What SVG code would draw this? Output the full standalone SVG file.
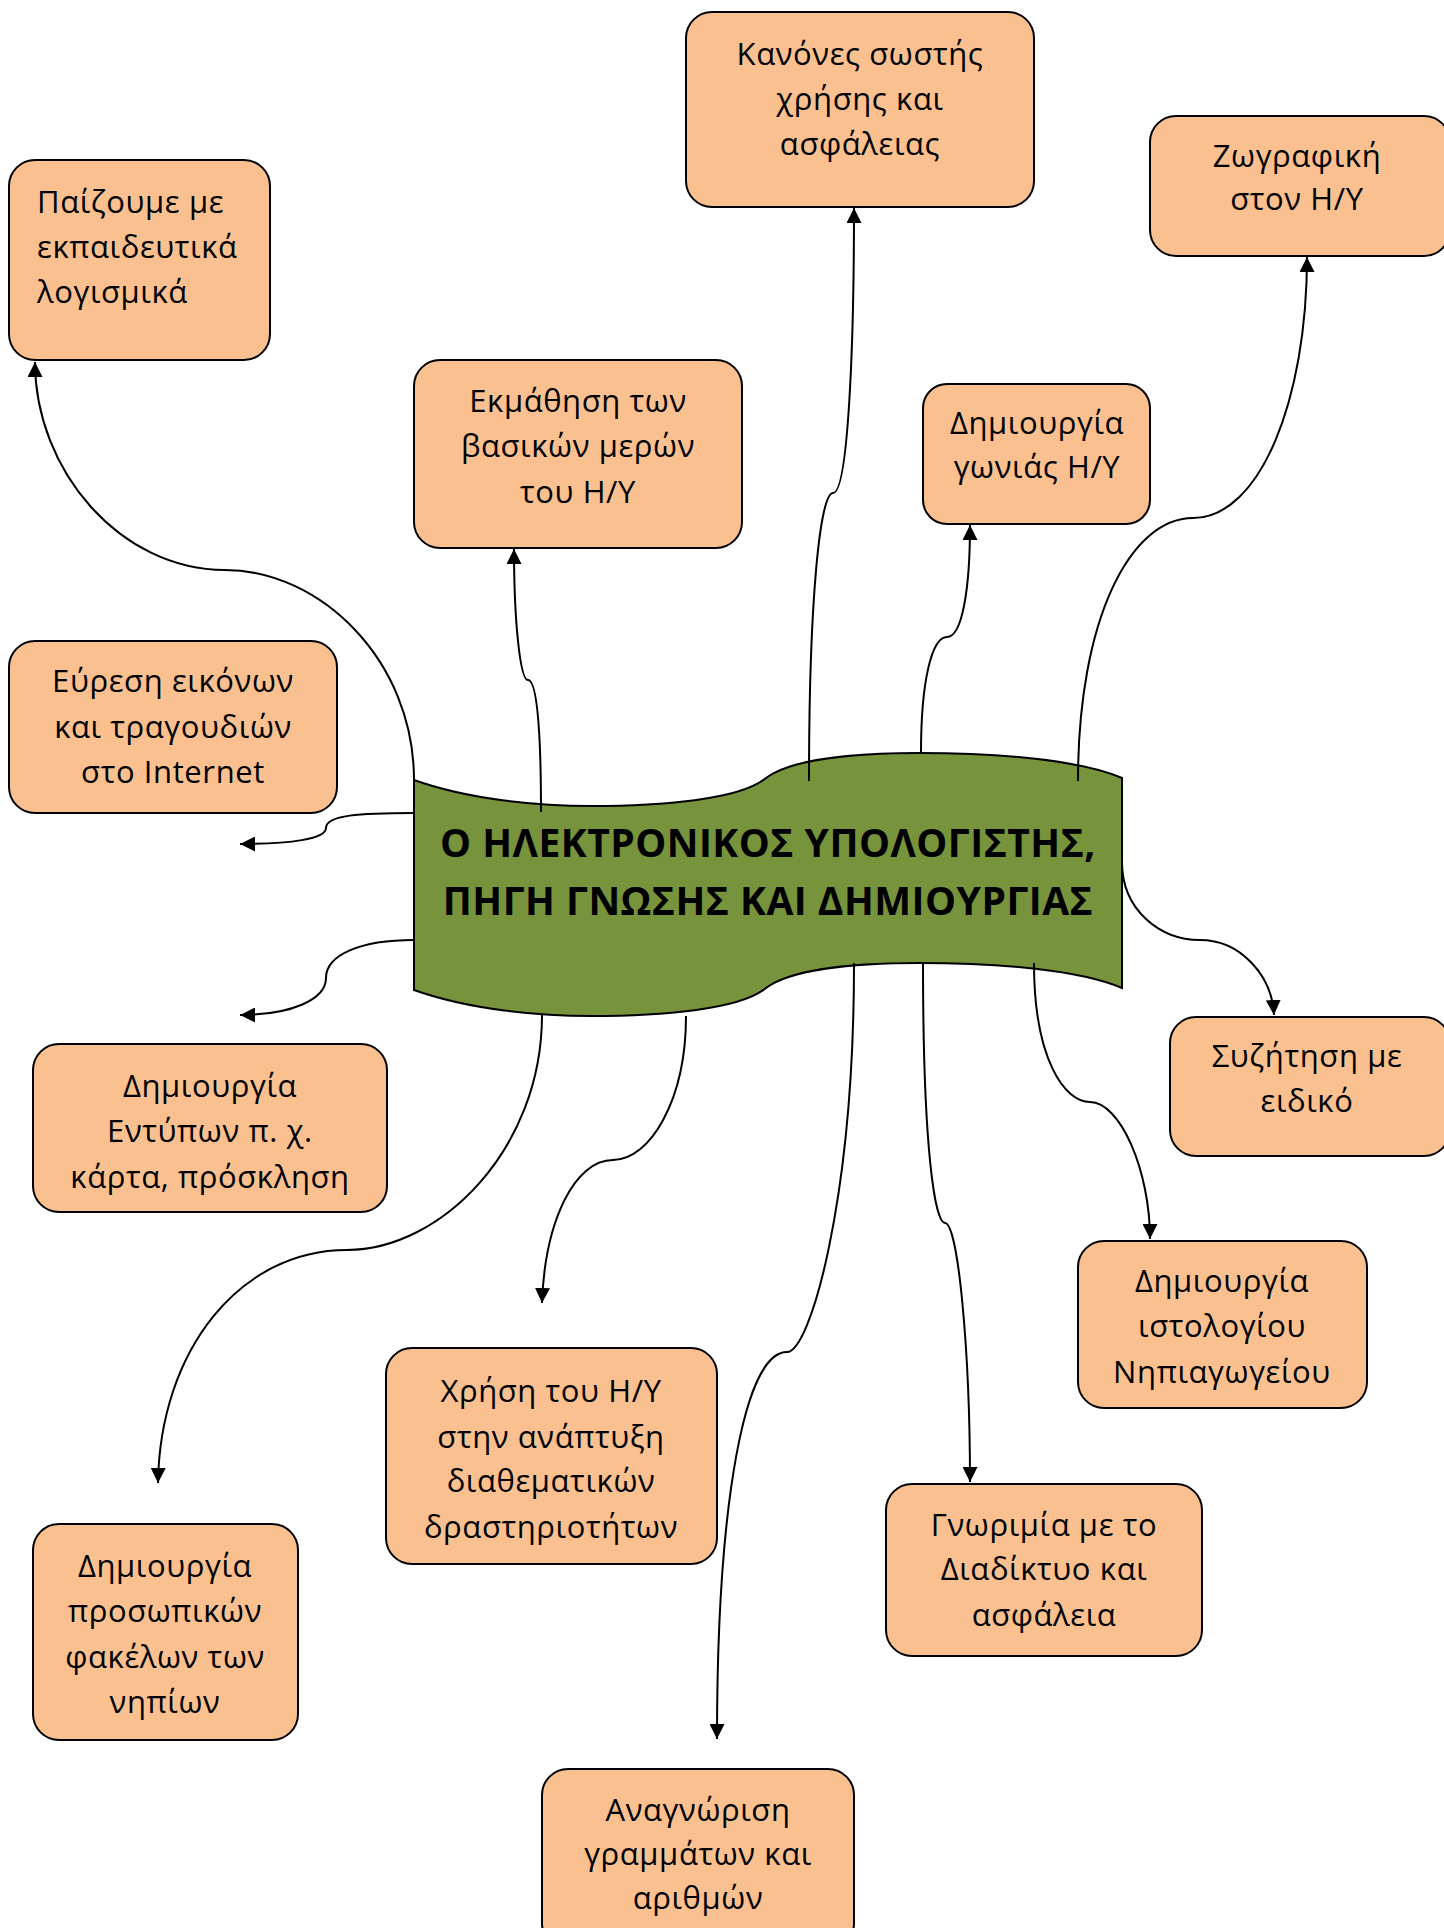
<svg xmlns="http://www.w3.org/2000/svg" width="1444" height="1928" viewBox="0 0 1444 1928">
<defs>
<style>
.box{fill:#FAC090;stroke:#000;stroke-width:2}
.t{font-family:"Open Sans","Noto Sans","DejaVu Sans",sans-serif;font-size:31px;letter-spacing:0.6px;fill:#000;text-anchor:middle}
.title{font-family:"Open Sans","Noto Sans","DejaVu Sans",sans-serif;font-size:39px;letter-spacing:0.5px;font-weight:bold;fill:#000;text-anchor:middle}
.c{fill:none;stroke:#000;stroke-width:2;marker-end:url(#ah)}
</style>
<marker id="ah" viewBox="0 0 15 15" refX="15" refY="7.5" markerWidth="15" markerHeight="15" markerUnits="userSpaceOnUse" orient="auto">
<path d="M0,0 L15,7.5 L0,15 z" fill="#000"/>
</marker>
</defs>
<rect width="1444" height="1928" fill="#fff"/>

<g id="center">
<path d="M414,780 C470,800 540,806 591,806 C660,806 740,800 766,778 C790,760 850,753 919,753 C1000,753 1080,760 1122,778 L1122,988 C1080,970 1000,963 919,963 C850,963 790,970 766,988 C740,1010 660,1016 591,1016 C540,1016 470,1010 414,990 Z" fill="#77933C" stroke="#000" stroke-width="2"/>
<text class="title" x="768" y="857">Ο ΗΛΕΚΤΡΟΝΙΚΟΣ ΥΠΟΛΟΓΙΣΤΗΣ,</text>
<text class="title" x="768" y="915">ΠΗΓΗ ΓΝΩΣΗΣ ΚΑΙ ΔΗΜΙΟΥΡΓΙΑΣ</text>
</g>

<g id="connectors">
<path class="c" d="M414,780 C414,660 320,570 225,570 C120,570 35,470 35,362"/>
<path class="c" d="M541,812 C541,720 536,680 528,680 C520,680 514,620 514,549"/>
<path class="c" d="M809,781 C809,600 820,493 833,493 C848,493 854,350 854,208"/>
<path class="c" d="M921,753 C921,680 932,637 947,637 C962,637 970,590 970,525"/>
<path class="c" d="M1078,781 C1078,620 1130,518 1193,518 C1260,518 1307,400 1307,257"/>
<path class="c" d="M414,813 C360,813 326,815 326,828 C326,839 290,844 240,844"/>
<path class="c" d="M414,940 C360,940 326,955 326,978 C326,1000 290,1015 240,1015"/>
<path class="c" d="M1122,862 C1122,910 1160,940 1200,940 C1240,940 1272,975 1274,1015"/>
<path class="c" d="M542,1015 C542,1150 440,1250 347,1250 C240,1250 160,1350 158,1483"/>
<path class="c" d="M686,1016 C686,1100 650,1160 613,1160 C575,1160 545,1220 542,1303"/>
<path class="c" d="M854,963 C854,1200 810,1352 787,1352 C745,1352 717,1500 717,1739"/>
<path class="c" d="M923,963 C923,1150 935,1223 945,1223 C958,1223 970,1350 970,1482"/>
<path class="c" d="M1034,963 C1034,1060 1065,1102 1090,1102 C1120,1102 1150,1170 1150,1239"/>
</g>

<g id="n-paizoume">
<rect class="box" x="9" y="160" width="261" height="200" rx="26"/>
<text class="t" style="text-anchor:start" x="37" y="213">Παίζουμε με</text>
<text class="t" style="text-anchor:start" x="37" y="258">εκπαιδευτικά</text>
<text class="t" style="text-anchor:start" x="37" y="303">λογισμικά</text>
</g>

<g id="n-kanones">
<rect class="box" x="686" y="12" width="348" height="195" rx="26"/>
<text class="t" x="860" y="65">Κανόνες σωστής</text>
<text class="t" x="860" y="110">χρήσης και</text>
<text class="t" x="860" y="155">ασφάλειας</text>
</g>

<g id="n-zografiki">
<rect class="box" x="1150" y="116" width="300" height="140" rx="26"/>
<text class="t" x="1297" y="167">Ζωγραφική</text>
<text class="t" x="1297" y="210">στον Η/Υ</text>
</g>

<g id="n-gonias">
<rect class="box" x="923" y="384" width="227" height="140" rx="24"/>
<text class="t" x="1037" y="434">Δημιουργία</text>
<text class="t" x="1037" y="478">γωνιάς Η/Υ</text>
</g>

<g id="n-ekmathisi">
<rect class="box" x="414" y="360" width="328" height="188" rx="26"/>
<text class="t" x="578" y="412">Εκμάθηση των</text>
<text class="t" x="578" y="457">βασικών μερών</text>
<text class="t" x="578" y="503">του Η/Υ</text>
</g>

<g id="n-evresi">
<rect class="box" x="9" y="641" width="328" height="172" rx="26"/>
<text class="t" x="173" y="692">Εύρεση εικόνων</text>
<text class="t" x="173" y="738">και τραγουδιών</text>
<text class="t" x="173" y="783">στο Internet</text>
</g>

<g id="n-entypa">
<rect class="box" x="33" y="1044" width="354" height="168" rx="26"/>
<text class="t" x="210" y="1097">Δημιουργία</text>
<text class="t" x="210" y="1142">Εντύπων π. χ.</text>
<text class="t" x="210" y="1188">κάρτα, πρόσκληση</text>
</g>

<g id="n-prosopikon">
<rect class="box" x="33" y="1524" width="265" height="216" rx="26"/>
<text class="t" x="165" y="1577">Δημιουργία</text>
<text class="t" x="165" y="1622">προσωπικών</text>
<text class="t" x="165" y="1668">φακέλων των</text>
<text class="t" x="165" y="1713">νηπίων</text>
</g>

<g id="n-xrisi">
<rect class="box" x="386" y="1348" width="331" height="216" rx="26"/>
<text class="t" x="551" y="1402">Χρήση του Η/Υ</text>
<text class="t" x="551" y="1448">στην ανάπτυξη</text>
<text class="t" x="551" y="1492">διαθεματικών</text>
<text class="t" x="551" y="1538">δραστηριοτήτων</text>
</g>

<g id="n-anagnorisi">
<rect class="box" x="542" y="1769" width="312" height="180" rx="26"/>
<text class="t" x="698" y="1821">Αναγνώριση</text>
<text class="t" x="698" y="1865">γραμμάτων και</text>
<text class="t" x="698" y="1909">αριθμών</text>
</g>

<g id="n-gnorimia">
<rect class="box" x="886" y="1484" width="316" height="172" rx="26"/>
<text class="t" x="1044" y="1536">Γνωριμία με το</text>
<text class="t" x="1044" y="1580">Διαδίκτυο και</text>
<text class="t" x="1044" y="1626">ασφάλεια</text>
</g>

<g id="n-istologiou">
<rect class="box" x="1078" y="1241" width="289" height="167" rx="26"/>
<text class="t" x="1222" y="1292">Δημιουργία</text>
<text class="t" x="1222" y="1337">ιστολογίου</text>
<text class="t" x="1222" y="1383">Νηπιαγωγείου</text>
</g>

<g id="n-syzitisi">
<rect class="box" x="1170" y="1017" width="280" height="139" rx="26"/>
<text class="t" x="1307" y="1067">Συζήτηση με</text>
<text class="t" x="1307" y="1112">ειδικό</text>
</g>
</svg>
